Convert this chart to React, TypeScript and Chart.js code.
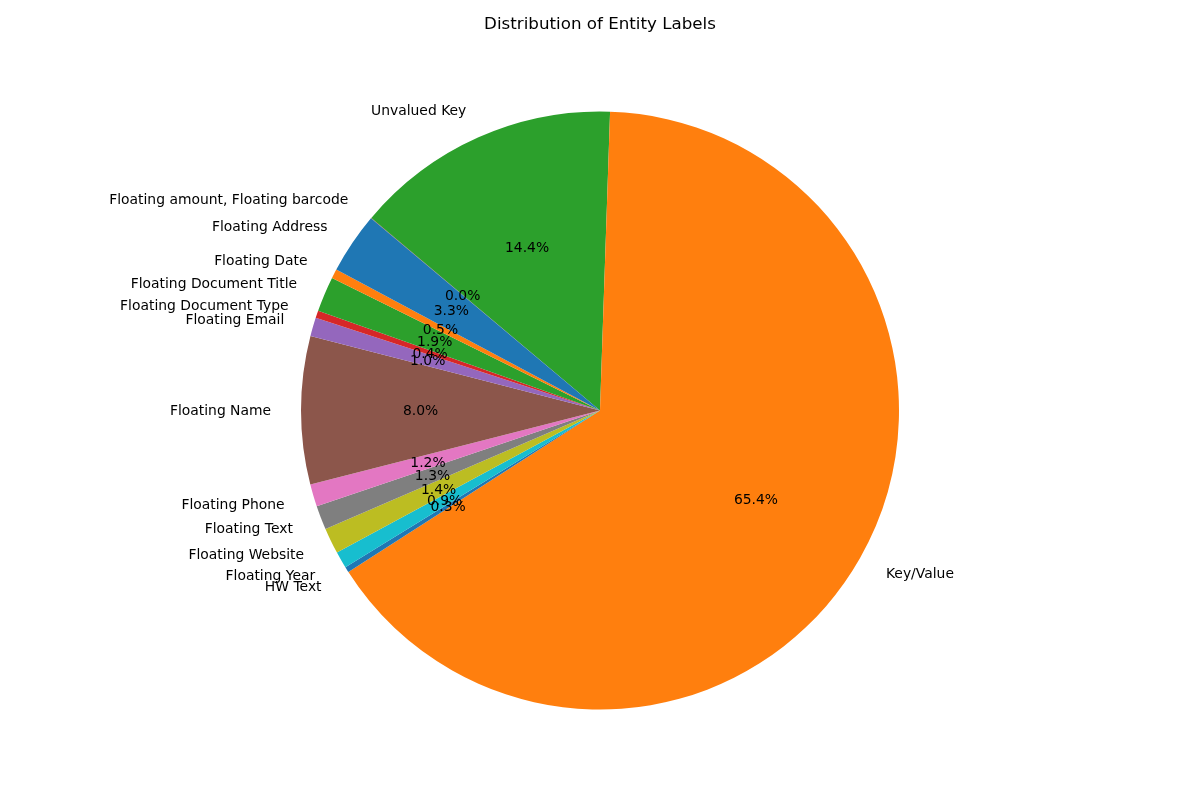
import React, { useEffect, useRef } from "react";
import { Chart, registerables } from "chart.js";

Chart.register(...registerables);

// Matplotlib order (counter-clockwise from 140°)
const labels = [
  "Floating Address",
  "Floating Date",
  "Floating Document Title",
  "Floating Document Type",
  "Floating Email",
  "Floating Name",
  "Floating Phone",
  "Floating Text",
  "Floating Website",
  "Floating Year",
  "HW Text",
  "Key/Value",
  "Unvalued Key",
  "Floating amount, Floating barcode",
];
const values = [3.3, 0.5, 1.9, 0.4, 1.0, 8.0, 1.2, 1.3, 1.4, 0.9, 0.3, 65.4, 14.4, 0.03];
const colors = [
  "#1f77b4", "#ff7f0e", "#2ca02c", "#d62728", "#9467bd", "#8c564b", "#e377c2",
  "#7f7f7f", "#bcbd22", "#17becf", "#1f77b4", "#ff7f0e", "#2ca02c", "#d62728",
];
const title = "Distribution of Entity Labels";

export default function App() {
  const ref = useRef<HTMLCanvasElement | null>(null);
  useEffect(() => {
    if (!ref.current) return;
    // Chart.js draws clockwise; reverse to mimic matplotlib counter-clockwise
    const lab = [...labels].reverse();
    const val = [...values].reverse();
    const col = [...colors].reverse();
    const total = val.reduce((a, b) => a + b, 0);
    const font = "13.9px 'DejaVu Sans', sans-serif";
    const dy = 1.5;
    const labelPlugin = {
      id: "pieLabels",
      afterDraw(chart: any) {
        const ctx = chart.ctx;
        const meta = chart.getDatasetMeta(0);
        ctx.save();
        ctx.fillStyle = "#000";
        ctx.font = "16.7px 'DejaVu Sans', sans-serif";
        ctx.textAlign = "center";
        ctx.textBaseline = "middle";
        ctx.fillText(title, 600, 25);
        ctx.font = font;
        meta.data.forEach((arc: any, i: number) => {
          const p = arc.getProps(["startAngle", "endAngle", "x", "y", "outerRadius"], true);
          const mid = (p.startAngle + p.endAngle) / 2;
          const r = p.outerRadius;
          const lx = p.x + Math.cos(mid) * r * 1.1;
          const ly = p.y + Math.sin(mid) * r * 1.1;
          ctx.textAlign = lx < p.x ? "right" : "left";
          ctx.textBaseline = "middle";
          ctx.fillText(lab[i], lx, ly + dy);
          const px = p.x + Math.cos(mid) * r * 0.6;
          const py = p.y + Math.sin(mid) * r * 0.6;
          ctx.textAlign = "center";
          ctx.fillText(((val[i] / total) * 100).toFixed(1) + "%", px, py + dy);
        });
        ctx.restore();
      },
    };
    const chart = new Chart(ref.current, {
      type: "pie",
      data: {
        labels: lab,
        datasets: [
          {
            data: val,
            backgroundColor: col,
            borderWidth: 0,
          },
        ],
      },
      options: {
        responsive: false,
        animation: false,
        rotation: -50,
        layout: { padding: { top: 111.5, bottom: 90.5, left: 0, right: 0 } },
        plugins: {
          legend: { display: false },
          tooltip: { enabled: false },
          title: { display: false },
        },
      },
      plugins: [labelPlugin],
    });
    return () => chart.destroy();
  }, []);
  return (
    <div style={{ position: "fixed", left: 0, top: 0, width: 1200, height: 800, background: "#fff" }}>
      <canvas ref={ref} width={1200} height={800} style={{ width: 1200, height: 800 }} />
    </div>
  );
}
